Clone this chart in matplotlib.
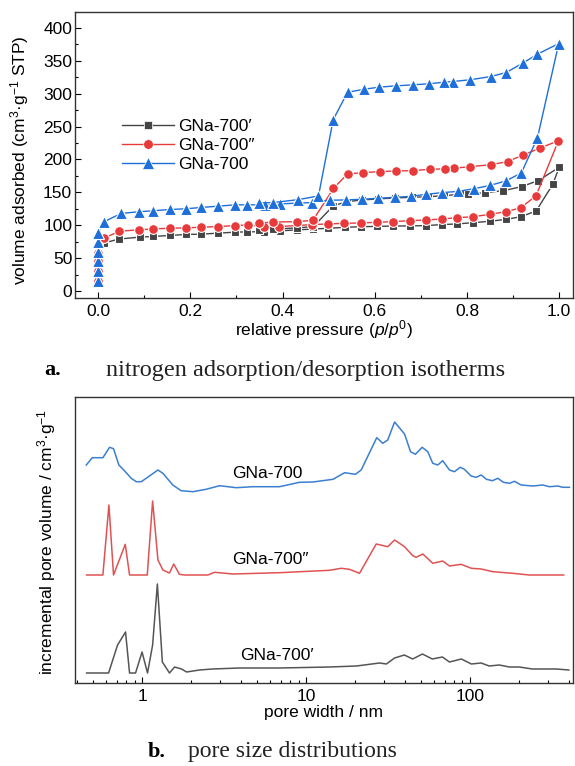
import matplotlib
matplotlib.use("Agg")
import matplotlib.pyplot as plt
from matplotlib.ticker import MultipleLocator, LogLocator, NullFormatter, FixedLocator
from matplotlib.lines import Line2D

plt.rcParams['font.family'] = ['Liberation Sans', 'DejaVu Sans']
plt.rcParams['mathtext.fontset'] = 'custom'
plt.rcParams['mathtext.rm'] = 'Liberation Sans'
plt.rcParams['mathtext.it'] = 'Liberation Sans:italic'

# ---------------- (a) isotherms ----------------
labels = ["GNa-700\u2032", "GNa-700\u2033", "GNa-700"]

# GNa-700'  (black)
k_ads_p = [0.0, 0.0, 0.0, 0.0, 0.0, 0.012, 0.045, 0.09, 0.12, 0.156, 0.19, 0.224, 0.26, 0.297, 0.3225,
           0.359, 0.395, 0.431, 0.467, 0.4996, 0.536, 0.570, 0.6045, 0.639, 0.677, 0.711, 0.745, 0.779,
           0.814, 0.849, 0.885, 0.917, 0.95, 0.986, 1.0]
k_ads_v = [17, 33, 45, 55, 65, 73, 79, 82, 83, 84.5, 86, 86.5, 88, 89.5, 90, 90.2, 91.5, 93, 94.3, 95.4,
           96.9, 97.8, 98.3, 98.8, 99, 99.5, 101, 102, 104, 106, 109, 113, 121.7, 162, 188]
k_des_p = [1.0, 0.955, 0.919, 0.879, 0.839, 0.803, 0.785, 0.751, 0.7166, 0.680, 0.644, 0.607, 0.572,
           0.539, 0.510, 0.467, 0.431, 0.38, 0.348]
k_des_v = [188, 168, 158.7, 152.6, 149.5, 147.5, 147, 145, 143.4, 142.5, 141.5, 140, 138.4, 135.8,
           129.5, 98, 96, 94, 93]

# GNa-700''  (red)
r_ads_p = [0.0, 0.0, 0.0, 0.0, 0.0, 0.012, 0.046, 0.088, 0.12, 0.156, 0.19, 0.224, 0.26, 0.297, 0.326,
           0.359, 0.393, 0.4635, 0.4996, 0.534, 0.570, 0.6045, 0.639, 0.677, 0.711, 0.745, 0.779, 0.814,
           0.849, 0.885, 0.917, 0.95, 0.9985]
r_ads_v = [16, 31, 46, 58, 70, 80, 91, 93, 94.5, 95.5, 96, 97, 98, 99.5, 100.5, 98, 98, 101, 102, 103,
           103.5, 104.5, 105.5, 107, 108, 109.5, 111.5, 113, 116.6, 120.6, 126.7, 145, 228.6]
r_des_p = [0.9985, 0.958, 0.9226, 0.888, 0.852, 0.807, 0.771, 0.753, 0.719, 0.683, 0.646, 0.611, 0.575,
           0.541, 0.5105, 0.466, 0.431, 0.380, 0.348]
r_des_v = [228.6, 217, 207, 196.7, 192, 189, 186.6, 185.8, 185, 183, 182.5, 181.5, 180, 178, 156,
           107.5, 105.4, 105, 103]

# GNa-700  (blue)
b_ads_p = [0.0, 0.0, 0.0, 0.0, 0.0, 0.0, 0.012, 0.05, 0.088, 0.12, 0.156, 0.19, 0.223, 0.26, 0.297,
           0.322, 0.362, 0.395, 0.4635, 0.502, 0.537, 0.572, 0.607, 0.644, 0.679, 0.711, 0.745, 0.781,
           0.815, 0.85, 0.885, 0.918, 0.953, 0.999]
b_ads_v = [15.7, 31, 46, 59, 75, 89, 105, 118, 120.5, 122, 124, 125, 127, 129, 131, 131, 131, 132.5,
           134.5, 138, 138.5, 139.5, 141, 142.5, 144, 147, 149.5, 151.5, 155.5, 160.5, 167.5, 179.5,
           233, 376]
b_des_p = [0.999, 0.953, 0.921, 0.885, 0.852, 0.807, 0.769, 0.751, 0.718, 0.682, 0.646, 0.61, 0.577,
           0.541, 0.51, 0.478, 0.4345, 0.38, 0.348]
b_des_v = [376, 360, 346.3, 332, 326, 321, 318.4, 317.4, 315, 313.3, 311.8, 309.8, 306.7, 302, 260.5,
           144.5, 139, 134.5, 134]

# ---------------- (b) pore size distributions ----------------
k_w = [0.459, 0.625, 0.709, 0.793, 0.839, 0.913, 1.0, 1.08, 1.16, 1.24, 1.33, 1.47, 1.58, 1.74, 1.87,
       2.24, 2.69, 3.93, 6.89, 13.9, 20.3, 28.1, 30.9, 34.7, 39.8, 44.7, 51.3, 58.9, 67.9, 75, 88.6,
       102, 117, 131, 151, 174, 200, 240, 291, 336, 401]
k_i = [10, 10, 38, 51, 10, 10, 31, 10, 38, 99, 21, 10, 16, 14, 11, 13, 14, 15, 15, 16, 17, 20, 19, 25,
       28, 24, 29, 24, 26, 21, 24, 19, 20, 17, 18, 16, 16, 14, 14, 14, 13]

r_w = [0.459, 0.577, 0.628, 0.670, 0.790, 0.839, 1.076, 1.16, 1.25, 1.34, 1.47, 1.56, 1.69, 1.82, 2.52,
       2.77, 3.58, 6.89, 13.9, 16.4, 18.4, 21.2, 26.8, 31.5, 34.7, 39.9, 44.8, 47, 51.6, 59.3, 68.2, 75,
       88.3, 102, 117, 138, 182, 230, 373]
r_i = [108, 108, 178, 108, 138.7, 108, 108, 182, 123, 113, 110, 119, 108.7, 108, 108, 110.7, 109, 110.3,
       112.7, 114.7, 113.7, 109.7, 139, 136.3, 143, 136.3, 127.3, 125.7, 129, 119.7, 122, 117, 118.7,
       114.7, 114, 111.3, 109.7, 108, 108]

b_w = [0.457, 0.497, 0.577, 0.634, 0.670, 0.722, 0.764, 0.859, 0.922, 0.989, 1.06, 1.25, 1.34, 1.54,
       1.73, 2.04, 2.46, 2.97, 3.75, 4.74, 6.89, 9.12, 11.0, 14.6, 17.2, 20.0, 21.7, 27.0, 29.4, 31.5,
       34.7, 39.9, 43.4, 46.5, 51.1, 55.3, 59.3, 63.6, 68.2, 75, 80.4, 87.1, 92.5, 101.6, 109, 117, 126,
       137, 148, 160, 174, 187, 205, 242, 278, 305, 343, 368, 404]
b_i = [218, 225.3, 225.3, 235.7, 234.3, 218, 214, 204.7, 201.3, 201.3, 204.7, 213, 209.7, 198, 192.3,
       191.3, 193.7, 197.3, 195.3, 196.3, 196.3, 200.7, 201, 203.7, 210.3, 208.7, 213, 245.3, 239.7, 243,
       261, 249, 231.3, 228.7, 235.7, 231.3, 219.7, 218, 222.3, 213, 211.3, 215.7, 213.7, 207, 205.7,
       208, 203.7, 202.3, 204.7, 200.7, 199.7, 201.7, 198, 197, 198, 196.3, 197, 195.7, 195.7]

c_k, c_r, c_b = "#444444", "#e8393b", "#1e6fd9"
ck2, cr2, cb2 = "#555555", "#e05252", "#3a7fd0"

fig = plt.figure(figsize=(5.75, 7.66), dpi=100)
FS = 12.5

# ---- top axes ----
ax1 = fig.add_axes([75/575, 1-298/766, 498/575, 286/766])
style = dict(lw=1.0, mec='white', mew=0.8)
ax1.plot(k_ads_p, k_ads_v, '-', color=c_k, marker='s', ms=6, **style)
ax1.plot(k_des_p, k_des_v, '-', color=c_k, marker='s', ms=6, **style)
ax1.plot(r_ads_p, r_ads_v, '-', color=c_r, marker='o', ms=7, **style)
ax1.plot(r_des_p, r_des_v, '-', color=c_r, marker='o', ms=7, **style)
ax1.plot(b_ads_p, b_ads_v, '-', color=c_b, marker='^', ms=8, **style)
ax1.plot(b_des_p, b_des_v, '-', color=c_b, marker='^', ms=8, **style)

handles = [Line2D([], [], color=c_k, lw=1.0, marker='s', ms=6, mec='white', mew=0.5),
           Line2D([], [], color=c_r, lw=1.0, marker='o', ms=7, mec='white', mew=0.5),
           Line2D([], [], color=c_b, lw=1.0, marker='^', ms=8, mec='white', mew=0.5)]
ax1.legend(handles, labels, loc='upper left', bbox_to_anchor=(0.095, 0.625), frameon=False,
           borderpad=0, borderaxespad=0, handlelength=3.0, handletextpad=0.2, labelspacing=0.22,
           fontsize=FS)

ax1.set_xlim(-0.05, 1.03)
ax1.set_ylim(-10.5, 424)
ax1.xaxis.set_major_locator(MultipleLocator(0.2))
ax1.xaxis.set_minor_locator(MultipleLocator(0.1))
ax1.yaxis.set_major_locator(MultipleLocator(50))
ax1.yaxis.set_minor_locator(MultipleLocator(25))
ax1.xaxis.set_major_formatter(matplotlib.ticker.FormatStrFormatter('%.1f'))
ax1.tick_params(which='both', direction='in', labelsize=FS)
ax1.tick_params(which='major', length=4, width=0.8)
ax1.tick_params(which='minor', length=2.5, width=0.8)
ax1.tick_params(axis='y', pad=2)
ax1.tick_params(axis='x', pad=4)
for s in ax1.spines.values():
    s.set_linewidth(1.0)
    s.set_color('#333333')
ax1.set_xlabel("relative pressure ($p$/$p^0$)", fontsize=FS, labelpad=0)
fig.text(20/575, 1-160/766, "volume adsorbed (cm$^3$\u00b7g$^{-1}$ STP)", rotation=90,
         ha='center', va='center', fontsize=FS)

# ---- bottom axes ----
ax2 = fig.add_axes([75/575, 1-683/766, 498/575, 286/766])
ax2.plot(k_w, k_i, '-', color=ck2, lw=1.1)
ax2.plot(r_w, r_i, '-', color=cr2, lw=1.1)
ax2.plot(b_w, b_i, '-', color=cb2, lw=1.1)
ax2.set_xscale('log')
ax2.set_xlim(0.39, 425)
ax2.set_ylim(0, 286)
ax2.set_yticks([])
ax2.xaxis.set_major_locator(FixedLocator([1, 10, 100]))
ax2.xaxis.set_major_formatter(matplotlib.ticker.FuncFormatter(lambda v, p: "%g" % v))
ax2.xaxis.set_minor_locator(LogLocator(base=10, subs=range(2, 10)))
ax2.xaxis.set_minor_formatter(NullFormatter())
ax2.tick_params(which='both', direction='in', labelsize=FS)
ax2.tick_params(which='major', length=4, width=0.8, pad=4)
ax2.tick_params(which='minor', length=2.5, width=0.8)
for s in ax2.spines.values():
    s.set_linewidth(1.0)
    s.set_color('#333333')
ax2.set_xlabel("pore width / nm", fontsize=FS, labelpad=1)
fig.text(47/575, 1-542/766, "incremental pore volume / cm$^3$\u00b7g$^{-1}$", rotation=90,
         ha='center', va='center', fontsize=FS)

fig.text(240/575, 1-655/766, labels[0], fontsize=FS, va='center', ha='left')
fig.text(232/575, 1-560/766, labels[1], fontsize=FS, va='center', ha='left')
fig.text(232/575, 1-473/766, labels[2], fontsize=FS, va='center', ha='left')

# ---- captions ----
CF = ['Liberation Serif', 'DejaVu Serif']
fig.text(44/575, 1-370/766, "a.", family=CF, fontweight='bold', fontsize=16, va='center', ha='left')
fig.text(106/575, 1-370/766, "nitrogen adsorption/desorption isotherms", family=CF, fontsize=17.5,
         va='center', ha='left', color='#222222')
fig.text(148/575, 1-752/766, "b.", family=CF, fontweight='bold', fontsize=16, va='center', ha='left')
fig.text(188/575, 1-752/766, "pore size distributions", family=CF, fontsize=17,
         va='center', ha='left', color='#222222')

fig.savefig("out.png", dpi=100)
